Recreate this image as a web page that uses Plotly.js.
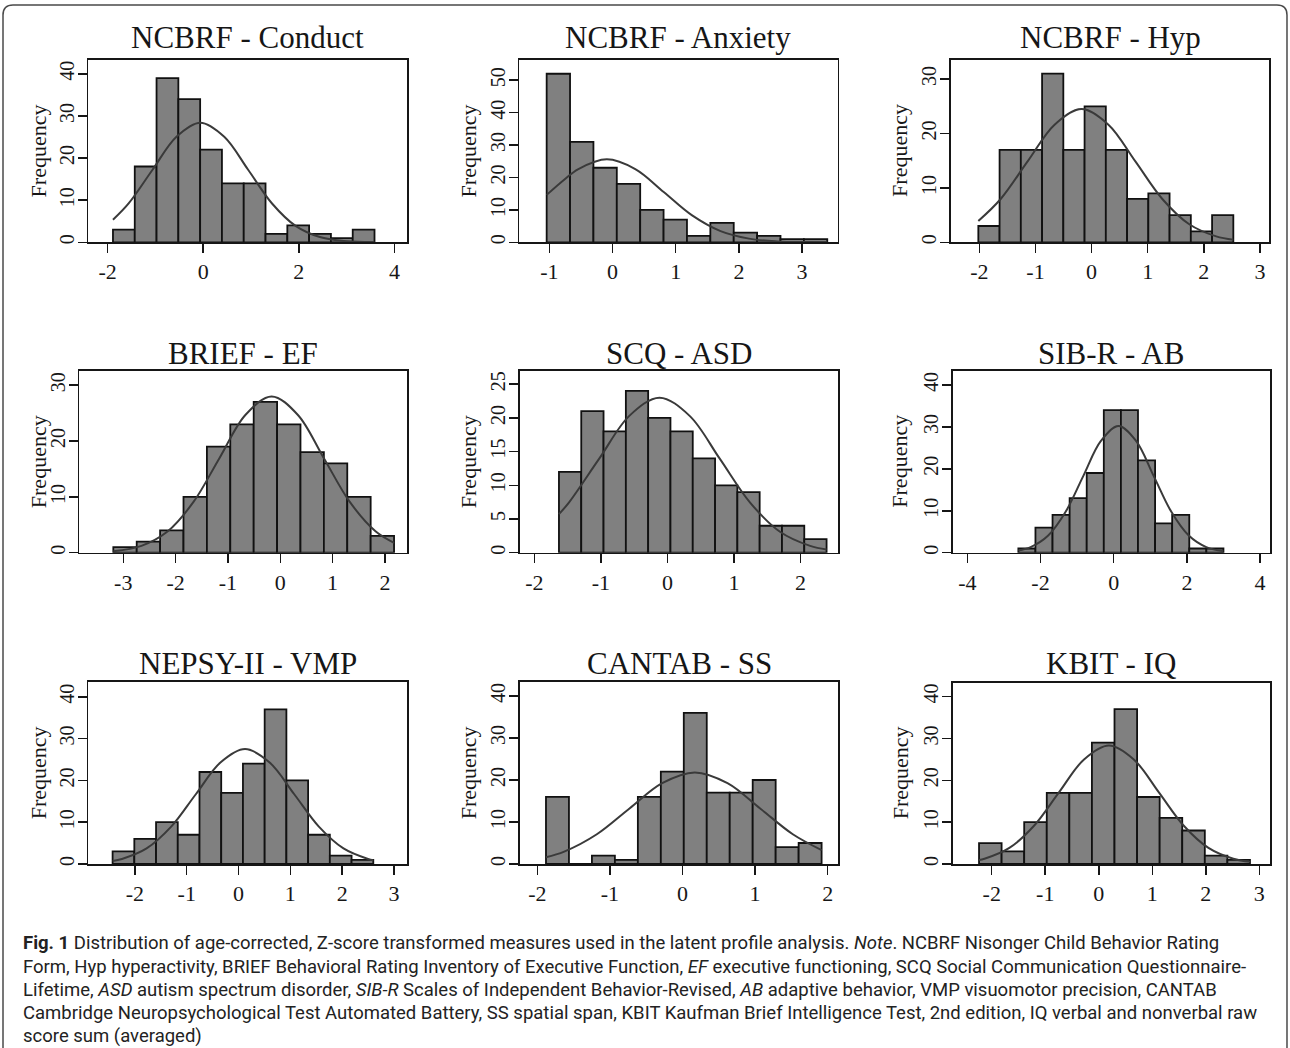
<!DOCTYPE html>
<html>
<head>
<meta charset="utf-8">
<script src="https://cdn.plot.ly/plotly-3.0.1.min.js"></script>
<style>
html,body{margin:0;padding:0;background:#fff;}
#chart{width:1290px;height:1048px;}
</style>
</head>
<body>
<div id="chart"></div>
<script>
// ---------------- DATA ----------------
const panelTitles = ['NCBRF - Conduct','NCBRF - Anxiety','NCBRF - Hyp','BRIEF - EF','SCQ - ASD','SIB-R - AB','NEPSY-II - VMP','CANTAB - SS','KBIT - IQ'];

// first bin edge and bin width (z-score units) of each histogram
const binStart = [-1.888, -1.042, -2.018, -3.19, -1.63, -2.606, -2.431, -1.881, -2.237];
const binWidth = [0.456, 0.37, 0.3786, 0.447, 0.335, 0.467, 0.4193, 0.3165, 0.4219];

// frequencies per bin
const conductCounts = [3,18,39,34,22,14,14,2,4,2,1,3];
const anxietyCounts = [52,31,23,18,10,7,2,6,3,2,1,1];
const hypCounts     = [3,17,17,31,17,25,17,8,9,5,2,5];
const efCounts      = [1,2,4,10,19,23,27,23,18,16,10,3];
const asdCounts     = [12,21,18,24,20,18,14,10,9,4,4,2];
const abCounts      = [1,6,9,13,19,34,34,22,7,9,1,1];
const vmpCounts     = [3,6,10,7,22,17,24,37,20,7,2,1];
const ssCounts      = [16,0,2,1,16,22,36,17,17,20,4,5];
const iqCounts      = [5,3,10,17,17,29,37,16,11,8,2,1];

// overlaid normal curves
const conductCurveX = [-1.888,-1.56,-1.06,-0.56,-0.06,0.44,0.94,1.44,1.94,2.44,2.94,3.44,3.584];
const conductCurveY = [5.34,9.22,17.22,25.06,28.4,25.06,17.22,9.22,3.84,1.25,0.32,0.06,0.04];
const anxietyCurveX = [-1.042,-0.765,-0.54,-0.09,0.36,0.81,1.26,1.71,2.16,2.61,3.06,3.398];
const anxietyCurveY = [14.63,19.32,22.59,25.6,22.59,15.53,8.31,3.46,1.13,0.28,0.06,0.01];
const hypCurveX = [-2.018,-1.62,-1.14,-0.66,-0.18,0.30,0.78,1.26,1.74,2.22,2.525];
const hypCurveY = [3.92,7.96,14.86,21.62,24.5,21.62,14.86,7.96,3.31,1.08,0.46];
const efCurveX = [-3.19,-2.653,-2.155,-1.658,-1.16,-0.663,-0.165,0.333,0.83,1.328,1.825,2.174];
const efCurveY = [0.28,1.23,3.79,9.09,16.98,24.71,28.0,24.71,16.98,9.09,3.79,1.77];
const asdCurveX = [-1.63,-1.478,-1.025,-0.573,-0.12,0.333,0.785,1.238,1.69,2.143,2.39];
const asdCurveY = [5.72,7.47,13.95,20.30,23.0,20.30,13.95,7.47,3.11,1.01,0.49];
const abCurveX = [-2.606,-2.27,-1.79,-1.31,-0.83,-0.35,0.13,0.61,1.09,1.57,2.05,2.53,2.998];
const abCurveY = [0.52,1.33,4.09,9.81,18.32,26.65,30.2,26.65,18.32,9.81,4.09,1.33,0.35];
const vmpCurveX = [-2.431,-2.25,-1.775,-1.30,-0.825,-0.35,0.125,0.60,1.075,1.55,2.025,2.50,2.601];
const vmpCurveY = [0.74,1.21,3.72,8.93,16.68,24.27,27.5,24.27,16.68,8.93,3.72,1.21,0.92];
const ssCurveX = [-1.881,-1.63,-1.18,-0.73,-0.28,0.17,0.62,1.07,1.52,1.917];
const ssCurveY = [1.62,2.95,7.08,13.22,19.24,21.8,19.24,13.22,7.08,3.31];
const iqCurveX = [-2.237,-2.135,-1.67,-1.205,-0.74,-0.275,0.19,0.655,1.12,1.585,2.05,2.515,2.826];
const iqCurveY = [0.94,1.24,3.83,9.19,17.16,24.97,28.3,24.97,17.16,9.19,3.83,1.24,0.51];

// tick labels
const xTickLabels = [
  [-2,0,2,4], [-1,0,1,2,3], [-2,-1,0,1,2,3],
  [-3,-2,-1,0,1,2], [-2,-1,0,1,2], [-4,-2,0,2,4],
  [-2,-1,0,1,2,3], [-2,-1,0,1,2], [-2,-1,0,1,2,3]
];
const yTickLabels = [
  [0,10,20,30,40], [0,10,20,30,40,50], [0,10,20,30],
  [0,10,20,30], [0,5,10,15,20,25], [0,10,20,30,40],
  [0,10,20,30,40], [0,10,20,30,40], [0,10,20,30,40]
];
const yAxisTitle = 'Frequency';

const captionLines = [
  '<b>Fig. 1</b> Distribution of age-corrected, Z-score transformed measures used in the latent profile analysis. <i>Note</i>. NCBRF Nisonger Child Behavior Rating',
  'Form, Hyp hyperactivity, BRIEF Behavioral Rating Inventory of Executive Function, <i>EF</i> executive functioning, SCQ Social Communication Questionnaire-',
  'Lifetime, <i>ASD</i> autism spectrum disorder, <i>SIB-R</i> Scales of Independent Behavior-Revised, <i>AB</i> adaptive behavior, VMP visuomotor precision, CANTAB',
  'Cambridge Neuropsychological Test Automated Battery, SS spatial span, KBIT Kaufman Brief Intelligence Test, 2nd edition, IQ verbal and nonverbal raw',
  'score sum (averaged)'
];

const allCounts = [conductCounts, anxietyCounts, hypCounts, efCounts, asdCounts, abCounts, vmpCounts, ssCounts, iqCounts];
const allCurveX = [conductCurveX, anxietyCurveX, hypCurveX, efCurveX, asdCurveX, abCurveX, vmpCurveX, ssCurveX, iqCurveX];
const allCurveY = [conductCurveY, anxietyCurveY, hypCurveY, efCurveY, asdCurveY, abCurveY, vmpCurveY, ssCurveY, iqCurveY];

// ---------------- LAYOUT (pixels) ----------------
const W = 1290, H = 1048;
// plot boxes: [left, right, top, bottom]
const boxes = [
  [88.3, 407.3, 59.5, 242.3], [519.3, 837.5, 59.5, 242.3], [951, 1269.3, 59.5, 242.3],
  [79.3, 407.3, 370.7, 552.7], [520, 838.3, 370.7, 552.7], [952.7, 1270, 370.7, 552.7],
  [88.3, 407.3, 681.7, 864], [520, 838.3, 681.7, 864], [952.7, 1270, 682.7, 864]
];
const xRanges = [
  [-2.404, 4.27], [-1.475, 3.56], [-2.505, 3.166],
  [-3.84, 2.427], [-2.215, 2.566], [-4.40, 4.27],
  [-2.90, 3.257], [-2.239, 2.147], [-2.729, 3.2]
];
const yTops = [43.4, 56.4, 33.6, 32.6, 27.0, 43.4, 43.6, 43.4, 43.3];
const titleY = [37.3, 37.3, 37.3, 353.3, 353.3, 353.3, 663, 663, 663];
const freqX = [38.5, 468.5, 900];

const serif = 'Liberation Serif, Times New Roman, Times, serif';
const ink = '#161616';

const traces = [];
const layout = {
  width: W, height: H,
  margin: {l:0, r:0, t:0, b:0, pad:0},
  paper_bgcolor: '#ffffff', plot_bgcolor: '#ffffff',
  showlegend: false,
  annotations: [],
  shapes: []
};

for (let i = 0; i < 9; i++) {
  const s = i === 0 ? '' : String(i + 1);
  const b = boxes[i];
  const counts = allCounts[i];
  const centers = counts.map((c, j) => binStart[i] + binWidth[i] * (j + 0.5));
  traces.push({
    type: 'bar', x: centers, y: counts, width: binWidth[i],
    xaxis: 'x' + s, yaxis: 'y' + s,
    marker: {color: '#808080', line: {color: '#111111', width: 1.8}},
    hoverinfo: 'skip'
  });
  traces.push({
    type: 'scatter', mode: 'lines', x: allCurveX[i], y: allCurveY[i],
    xaxis: 'x' + s, yaxis: 'y' + s,
    line: {shape: 'spline', smoothing: 1, color: '#3a3a3a', width: 2},
    hoverinfo: 'skip'
  });
  const common = {
    showgrid: false, zeroline: false, showline: true, mirror: true,
    linecolor: ink, linewidth: 1.6,
    ticks: 'outside', ticklen: 9, tickwidth: 1.5, tickcolor: ink,
    fixedrange: true, automargin: false
  };
  layout['xaxis' + s] = Object.assign({}, common, {
    domain: [b[0] / W, b[1] / W], range: xRanges[i], anchor: 'y' + s,
    tickmode: 'array', tickvals: xTickLabels[i], ticktext: xTickLabels[i].map(String),
    tickfont: {family: serif, size: 22, color: ink}
  });
  layout['yaxis' + s] = Object.assign({}, common, {
    domain: [1 - b[3] / H, 1 - b[2] / H], range: [0, yTops[i]], anchor: 'x' + s,
    tickmode: 'array', tickvals: yTickLabels[i], ticktext: yTickLabels[i].map(String),
    tickangle: -90, ticklabelstandoff: -4,
    tickfont: {family: serif, size: 20, color: ink}
  });
  // panel title
  layout.annotations.push({
    xref: 'paper', yref: 'paper', x: (b[0] + b[1]) / 2 / W, y: 1 - titleY[i] / H,
    xanchor: 'center', yanchor: 'middle', showarrow: false,
    text: panelTitles[i], font: {family: serif, size: 31, color: ink}
  });
  // y axis title
  layout.annotations.push({
    xref: 'paper', yref: 'paper', x: freqX[i % 3] / W, y: 1 - (b[2] + b[3]) / 2 / H,
    xanchor: 'center', yanchor: 'middle', showarrow: false, textangle: -90,
    text: yAxisTitle, font: {family: serif, size: 22, color: ink}
  });
}

// caption
const capY = [943, 967, 990, 1013, 1036];
captionLines.forEach((t, k) => {
  layout.annotations.push({
    xref: 'paper', yref: 'paper', x: 21 / W, y: 1 - capY[k] / H,
    xanchor: 'left', yanchor: 'middle', showarrow: false, align: 'left',
    text: t, font: {family: 'Roboto, Open Sans, sans-serif', size: 18.5, color: '#222'}
  });
});

// outer frame with rounded top corners
function px(x){ return (x / W).toFixed(5); }
function py(y){ return (1 - y / H).toFixed(5); }
const L = 3, R = 1287, T = 5, rad = 10, B = 1070;
layout.shapes.push({
  type: 'path', xref: 'paper', yref: 'paper',
  path: `M ${px(L)},${py(B)} L ${px(L)},${py(T + rad)} Q ${px(L)},${py(T)} ${px(L + rad)},${py(T)} L ${px(R - rad)},${py(T)} Q ${px(R)},${py(T)} ${px(R)},${py(T + rad)} L ${px(R)},${py(B)}`,
  line: {color: '#4a4a4a', width: 1.5}
});

Plotly.newPlot('chart', traces, layout, {staticPlot: true, displayModeBar: false});
</script>
</body>
</html>
